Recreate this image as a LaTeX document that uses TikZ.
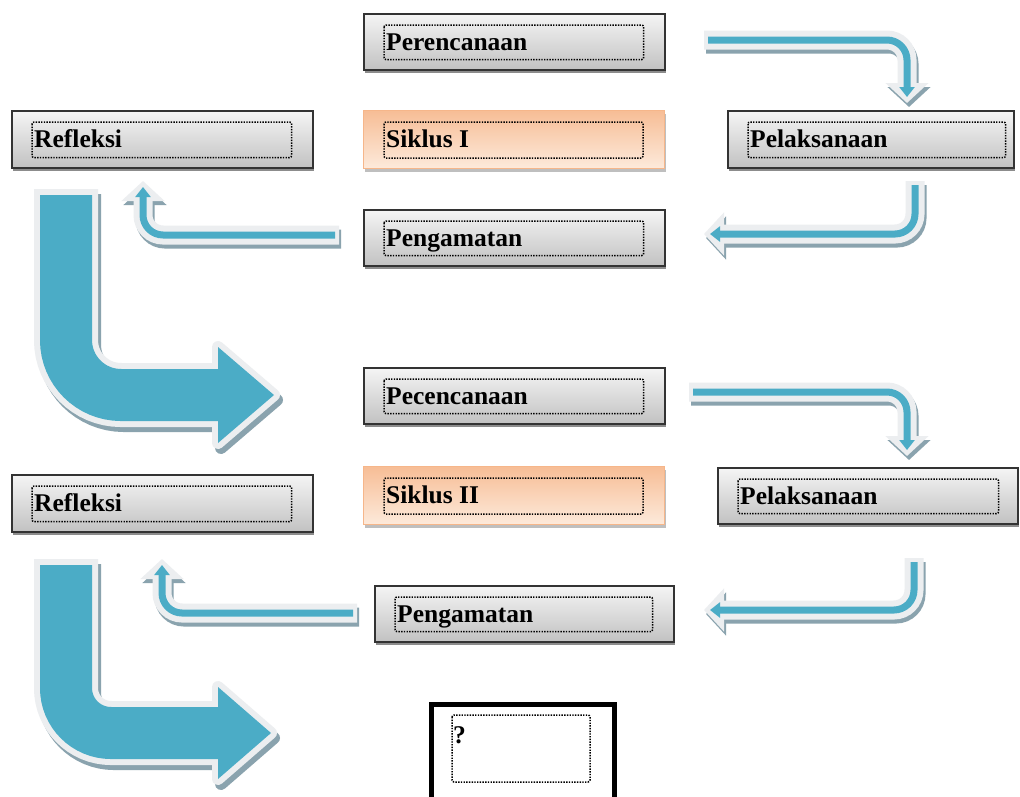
\documentclass[tikz,border=0pt]{standalone}
\usepackage{fontspec}
\setmainfont{Liberation Serif}
\usetikzlibrary{arrows.meta}
\definecolor{teal1}{HTML}{4BACC6}
\definecolor{outl}{HTML}{ECEEF0}
\definecolor{shad}{HTML}{8AA3AE}
\definecolor{orEdge}{HTML}{F6B68A}
\definecolor{orLight}{HTML}{FDEADB}
\tikzset{
  graybox/.style={draw=black!80, line width=1.6pt, top color=black!4, bottom color=black!24},
  graybox-sh/.style={fill=black!45},
  orangebox/.style={draw=orEdge, line width=1pt, top color=orEdge!90, bottom color=orLight},
  orangebox-sh/.style={fill=black!25},
  qbox/.style={draw=black, line width=5pt, fill=white},
  innerbox/.style={draw=black, line width=1.5pt, dash pattern=on 1.4pt off 1.3pt, rounded corners=2pt},
  lbl/.style={font=\bfseries\fontsize{25.5}{30}\selectfont, inner sep=0pt, anchor=base west, text=black},
  tarrsh/.style={draw=shad, line width=19pt, rounded corners=20pt, shorten >=-6pt, shorten <=-4pt,
     -{Triangle[width=42pt,length=20pt]}, transform canvas={xshift=2pt, yshift=-4pt}},
  tarrout/.style={draw=outl, line width=19pt, rounded corners=20pt, shorten >=-6pt, shorten <=-4pt,
     -{Triangle[width=42pt,length=20pt]}},
  tarr/.style={draw=teal1, line width=7pt, rounded corners=20pt, -{Triangle[width=15pt,length=10pt]}},
  bigsh/.style={draw=shad, line width=64pt, transform canvas={xshift=3pt, yshift=-5pt}},
  bigshhead/.style={draw=shad, fill=shad, line width=12pt, line join=round, transform canvas={xshift=3pt, yshift=-5pt}},
  bigout/.style={draw=outl, line width=64pt},
  bigouthead/.style={draw=outl, fill=outl, line width=12pt, line join=round},
  big/.style={draw=teal1, line width=52pt},
  bighead/.style={fill=teal1},
}
\newcommand\mkbox[8][22]{%
  \fill[#3-sh] (#4+2,#5+4) rectangle (#6+2,#7+4);
  \node[#3, minimum width={#6-#4}, minimum height={#7-#5}, inner sep=0pt, anchor=north west] (#2) at (#4,#5) {};
  \draw[innerbox] ([xshift=21pt,yshift=-12pt]#2.north west) rectangle ([xshift=-#1pt,yshift=11pt]#2.south east);
  \node[lbl] (#2-t) at ([xshift=23pt,yshift=-37pt]#2.north west) {#8};
}
\newcommand\thinarrow[3]{%
  \draw[tarrsh] (#1) -- (#2) -- (#3);
  \draw[tarrout] (#1) -- (#2) -- (#3);
  \draw[tarr] (#1) -- (#2) -- (#3);
}
\begin{document}
\begin{tikzpicture}[x=1pt,y=-1pt]
\useasboundingbox (0,0) rectangle (1020,796);
\clip (0,0) rectangle (1020,796);
\fill[white] (0,0) rectangle (1020,796);

% boxes, cycle I
\mkbox{per}{graybox}{363}{13}{664}{69}{Perencanaan}
\mkbox{sik1}{orangebox}{363}{110}{664}{168}{Siklus I}
\mkbox{peng1}{graybox}{363}{209}{664}{265}{Pengamatan}
\mkbox{ref1}{graybox}{11}{110}{312}{167}{Refleksi}
\mkbox[9]{pel1}{graybox}{727}{110}{1013}{167}{Pelaksanaan}
% boxes, cycle II
\mkbox{pec2}{graybox}{363}{367}{664}{423}{Pecencanaan}
\mkbox{sik2}{orangebox}{363}{466}{664}{524}{Siklus II}
\mkbox[20]{pel2}{graybox}{717}{467}{1017}{523}{Pelaksanaan}
\mkbox{ref2}{graybox}{11}{474}{312}{531}{Refleksi}
\mkbox{peng2}{graybox}{374}{585}{673}{641}{Pengamatan}
% question box
\node[qbox, minimum width=183, minimum height=98, inner sep=0pt, anchor=north west] (q) at (429,702) {};
\draw[innerbox] (452,715) rectangle (590,782);
\node[lbl] (q-t) at (453,743) {?};

% thin arrow coordinates
\coordinate (a1) at (708,40);  \coordinate (a2) at (907,40);  \coordinate (a3) at (907,97);
\coordinate (b1) at (915,185); \coordinate (b2) at (915,234); \coordinate (b3) at (710,234);
\coordinate (c1) at (335,235); \coordinate (c2) at (143,235); \coordinate (c3) at (143,187);
\coordinate (e1) at (693,392); \coordinate (e2) at (907,392); \coordinate (e3) at (907,450);
\coordinate (f1) at (914,562); \coordinate (f2) at (914,610); \coordinate (f3) at (710,610);
\coordinate (g1) at (353,613); \coordinate (g2) at (162,613); \coordinate (g3) at (162,565);
\thinarrow{a1}{a2}{a3}
\thinarrow{b1}{b2}{b3}
\thinarrow{c1}{c2}{c3}
\thinarrow{e1}{e2}{e3}
\thinarrow{f1}{f2}{f3}
\thinarrow{g1}{g2}{g3}

% big arrow 1
\coordinate (p1) at (66,195); \coordinate (p1o) at (66,189);
\coordinate (p2) at (66,395); \coordinate (p3) at (222,395);
\draw[bigsh, rounded corners=55pt] (p1o) -- (p2) -- (p3);
\filldraw[bigshhead] (218,347) -- (274,395) -- (218,443) -- cycle;
\draw[bigout, rounded corners=55pt] (p1o) -- (p2) -- (p3);
\filldraw[bigouthead] (218,347) -- (274,395) -- (218,443) -- cycle;
\draw[big, rounded corners=55pt] (p1) -- (p2) -- (p3);
\fill[bighead] (218,347) -- (274,395) -- (218,443) -- cycle;

% big arrow 2
\coordinate (r1) at (66,565); \coordinate (r1o) at (66,559);
\coordinate (r2) at (66,733); \coordinate (r3) at (222,733);
\draw[bigsh, rounded corners=45pt] (r1o) -- (r2) -- (r3);
\filldraw[bigshhead] (218,687) -- (271,733) -- (218,779) -- cycle;
\draw[bigout, rounded corners=45pt] (r1o) -- (r2) -- (r3);
\filldraw[bigouthead] (218,687) -- (271,733) -- (218,779) -- cycle;
\draw[big, rounded corners=45pt] (r1) -- (r2) -- (r3);
\fill[bighead] (218,687) -- (271,733) -- (218,779) -- cycle;
\end{tikzpicture}
\end{document}
